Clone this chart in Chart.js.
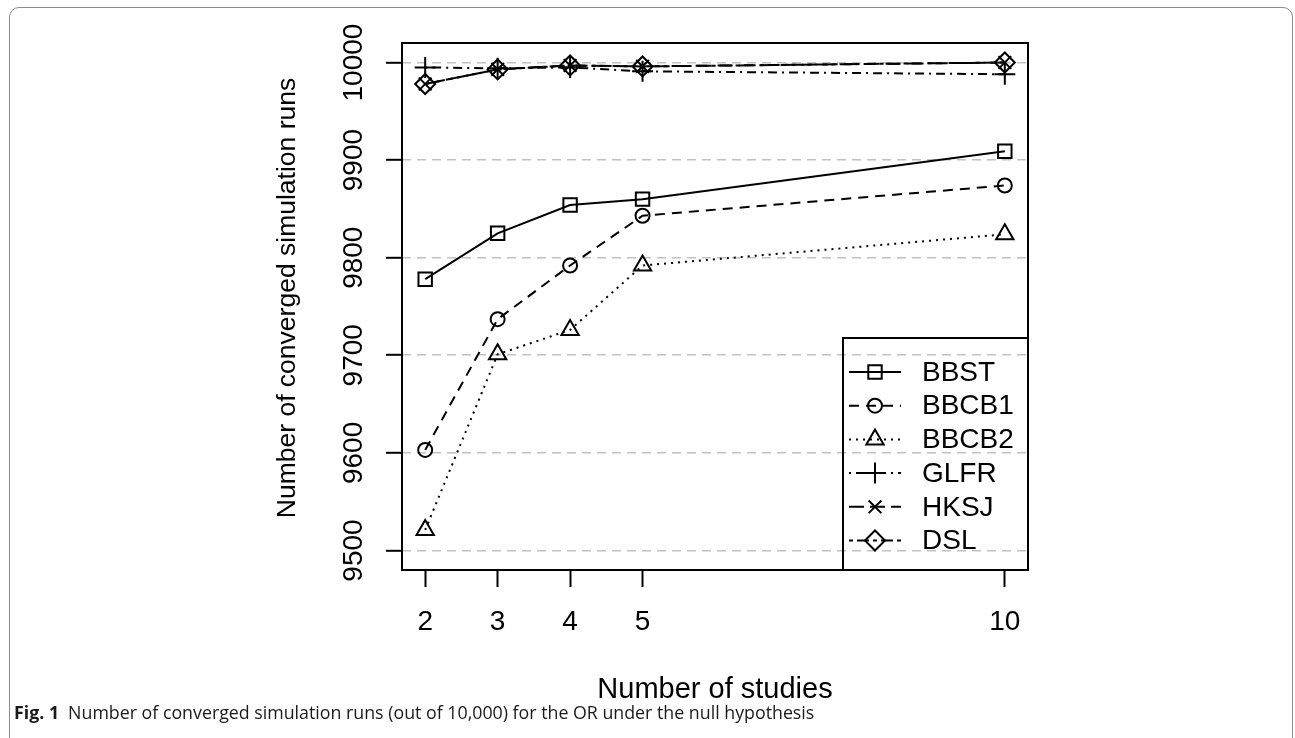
<!DOCTYPE html>
<html>
<head>
<meta charset="utf-8">
<script src="https://cdn.jsdelivr.net/npm/chart.js@4.4.0/dist/chart.umd.min.js"></script>
<style>
  html, body { margin: 0; padding: 0; background: #fff; }
  body { width: 1295px; height: 738px; position: relative; overflow: hidden; }
  #card { position: absolute; left: 9px; top: 7px; width: 1284px; height: 760px;
          border: 1px solid #8a8a8a; border-radius: 10px; box-sizing: border-box; }
  #wrap { position: absolute; left: 0; top: 0; width: 1295px; height: 738px; }
  #caption { position: absolute; left: 14px; top: 701px; font-family: "Open Sans", sans-serif;
             font-size: 17.8px; line-height: 22px; color: #1a1a1a; letter-spacing: 0px; }
  #caption b { font-weight: 700; margin-right: 9px; }
</style>
</head>
<body>
<div id="card"></div>
<div id="wrap"><canvas id="chart" width="1295" height="738"></canvas></div>
<div id="caption"><b>Fig. 1</b>Number of converged simulation runs (out of 10,000) for the OR under the null hypothesis</div>
<script>
// values
const studies = [2, 3, 4, 5, 10];
const yTicks = [9500, 9600, 9700, 9800, 9900, 10000];
const bbst  = [9778, 9825, 9854, 9860, 9909];
const bbcb1 = [9603, 9737, 9792, 9843, 9874];
const bbcb2 = [9521, 9701, 9726, 9792, 9824];
const glfr  = [9995, 9994, 9995, 9991, 9988];
const hksj  = [9978, 9993, 9997, 9996, 10000];
const dsl   = [9978, 9993, 9997, 9996, 10000];

const FONT = '"Liberation Sans", Arial, sans-serif';
const pts = arr => arr.map((v, i) => ({ x: studies[i], y: v }));

const series = [
  { label: 'BBST',  data: bbst,  dash: [],               style: 'rect',     r: 9.5 },
  { label: 'BBCB1', data: bbcb1, dash: [10, 7],          style: 'circle',   r: 7 },
  { label: 'BBCB2', data: bbcb2, dash: [2, 5],           style: 'triangle', r: 10 },
  { label: 'GLFR',  data: glfr,  dash: [2, 5, 9, 5],     style: 'cross',    r: 10.5 },
  { label: 'HKSJ',  data: hksj,  dash: [15, 6],          style: 'crossRot', r: 9 },
  { label: 'DSL',   data: dsl,   dash: [4, 4, 12, 4],    style: 'rectRot',  r: 10 }
];

// R-like axis text, box and legend drawn from the scales
const rDecor = {
  id: 'rDecor',
  afterDraw(chart) {
    const ctx = chart.ctx, a = chart.chartArea;
    const xs = chart.scales.x, ys = chart.scales.y;
    ctx.save();
    ctx.strokeStyle = '#000';
    ctx.lineWidth = 2;
    ctx.strokeRect(a.left, a.top, a.right - a.left, a.bottom - a.top);

    ctx.fillStyle = '#000';
    ctx.font = '28px ' + FONT;
    ctx.textAlign = 'center';
    ctx.textBaseline = 'middle';
    studies.forEach(v => ctx.fillText(String(v), xs.getPixelForValue(v), 622));
    yTicks.forEach(v => {
      ctx.save();
      ctx.translate(354, ys.getPixelForValue(v));
      ctx.rotate(-Math.PI / 2);
      ctx.fillText(String(v), 0, 0);
      ctx.restore();
    });
    ctx.font = '29px ' + FONT;
    ctx.fillText('Number of studies', (a.left + a.right) / 2, 690);
    ctx.save();
    ctx.font = '26.5px ' + FONT;
    ctx.translate(288, 298);
    ctx.rotate(-Math.PI / 2);
    ctx.fillText('Number of converged simulation runs', 0, 0);
    ctx.restore();

    // legend box in the lower right corner
    ctx.font = '28px ' + FONT;
    const lx = 843, ly = 338;
    ctx.lineWidth = 2;
    ctx.strokeRect(lx, ly, a.right - lx, a.bottom - ly);
    ctx.textAlign = 'left';
    series.forEach((s, i) => {
      const cy = 372 + i * 33.7;
      ctx.strokeStyle = '#000';
      ctx.lineWidth = 2;
      ctx.setLineDash(s.dash);
      ctx.beginPath();
      ctx.moveTo(849, cy);
      ctx.lineTo(901, cy);
      ctx.stroke();
      ctx.setLineDash([]);
      ctx.fillStyle = 'rgba(0,0,0,0)';
      Chart.helpers.drawPoint(ctx, { pointStyle: s.style, radius: s.r, rotation: 0, borderWidth: 2 }, 875, cy);
      ctx.fillStyle = '#000';
      ctx.fillText(s.label, 922, cy + 1);
    });
    ctx.restore();
  }
};

new Chart(document.getElementById('chart'), {
  type: 'line',
  data: {
    datasets: series.map(s => ({
      label: s.label,
      data: pts(s.data),
      borderColor: '#000',
      borderWidth: 2,
      borderDash: s.dash,
      tension: 0,
      fill: false,
      pointStyle: s.style,
      pointRadius: s.r,
      pointBorderWidth: 2,
      pointBorderColor: '#000',
      pointBackgroundColor: 'rgba(0,0,0,0)'
    }))
  },
  options: {
    responsive: false,
    animation: false,
    events: [],
    layout: { padding: { left: 0, top: 43, right: 267, bottom: 0 } },
    plugins: { legend: { display: false }, tooltip: { enabled: false } },
    scales: {
      x: {
        type: 'linear', min: 1.68, max: 10.32,
        afterBuildTicks: s => { s.ticks = studies.map(v => ({ value: v })); },
        afterFit: s => { s.height = 168; },
        ticks: { display: false },
        grid: { drawOnChartArea: false, drawTicks: true, tickLength: 17, tickColor: '#000', tickWidth: 2 },
        border: { display: false }
      },
      y: {
        type: 'linear', min: 9480, max: 10020,
        afterBuildTicks: s => { s.ticks = yTicks.map(v => ({ value: v })); },
        afterFit: s => { s.width = 402; },
        ticks: { display: false },
        grid: { color: '#c2c2c2', lineWidth: 1.6, drawTicks: true, tickLength: 16, tickColor: '#000', tickWidth: 2, tickBorderDash: [] },
        border: { display: false, dash: [9, 6] }
      }
    }
  },
  plugins: [rDecor]
});
</script>
</body>
</html>
